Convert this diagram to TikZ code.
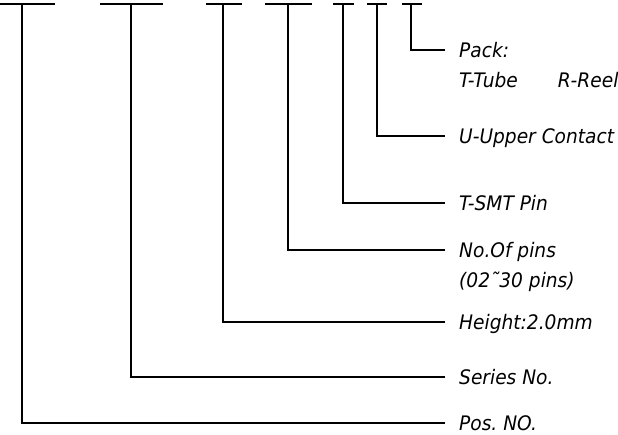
\documentclass[tikz,border=0pt]{standalone}
\usepackage{fontspec}
\setmainfont{DejaVu Sans}[FakeStretch=0.93]
\frenchspacing
\begin{document}
\begin{tikzpicture}[x=1pt,y=-1pt,
  ln/.style={line width=1.2pt,black},
  txt/.style={anchor=west,inner ysep=0pt,text height=14.6pt,text depth=0pt,
    font=\fontsize{20}{24}\selectfont\itshape},
  lbl/.style={txt,inner xsep=14pt},
  sub/.style={txt,inner xsep=0pt}]
\useasboundingbox (0,0) rectangle (618,435);
% bar tops
\coordinate (b1l) at (0,4);   \coordinate (b1r) at (55,4);  \coordinate (b1) at (22,4);
\coordinate (b2l) at (100,4); \coordinate (b2r) at (163,4); \coordinate (b2) at (131,4);
\coordinate (b3l) at (206,4); \coordinate (b3r) at (242,4); \coordinate (b3) at (223,4);
\coordinate (b4l) at (265,4); \coordinate (b4r) at (312,4); \coordinate (b4) at (288,4);
\coordinate (b5l) at (333,4); \coordinate (b5r) at (354,4); \coordinate (b5) at (343,4);
\coordinate (b6l) at (367,4); \coordinate (b6r) at (387,4); \coordinate (b6) at (377,4);
\coordinate (b7l) at (402,4); \coordinate (b7r) at (422,4); \coordinate (b7) at (411,4);
% labels
\node[lbl] (pack) at (445,50) {Pack:};
\node[sub] (packopt) at (459,80) {T-Tube\hspace{40pt}R-Reel};
\node[lbl] (upper) at (445,136) {U-Upper Contact};
\node[lbl] (smt) at (445,203) {T-SMT Pin};
\node[lbl] (pins) at (445,250) {No.Of pins};
\node[sub] (pinrange) at (459,280) {(02˜30 pins)};
\node[lbl] (height) at (445,322) {Height:2.0mm};
\node[lbl] (series) at (445,377) {Series No.};
\node[lbl] (pos) at (445,423) {Pos. NO.};
% bars
\foreach \i in {1,...,7} {\draw[ln] (b\i l) -- (b\i r);}
% connectors
\draw[ln] (b7) |- (pack.west);
\draw[ln] (b6) |- (upper.west);
\draw[ln] (b5) |- (smt.west);
\draw[ln] (b4) |- (pins.west);
\draw[ln] (b3) |- (height.west);
\draw[ln] (b2) |- (series.west);
\draw[ln] (b1) |- (pos.west);
\end{tikzpicture}
\end{document}
